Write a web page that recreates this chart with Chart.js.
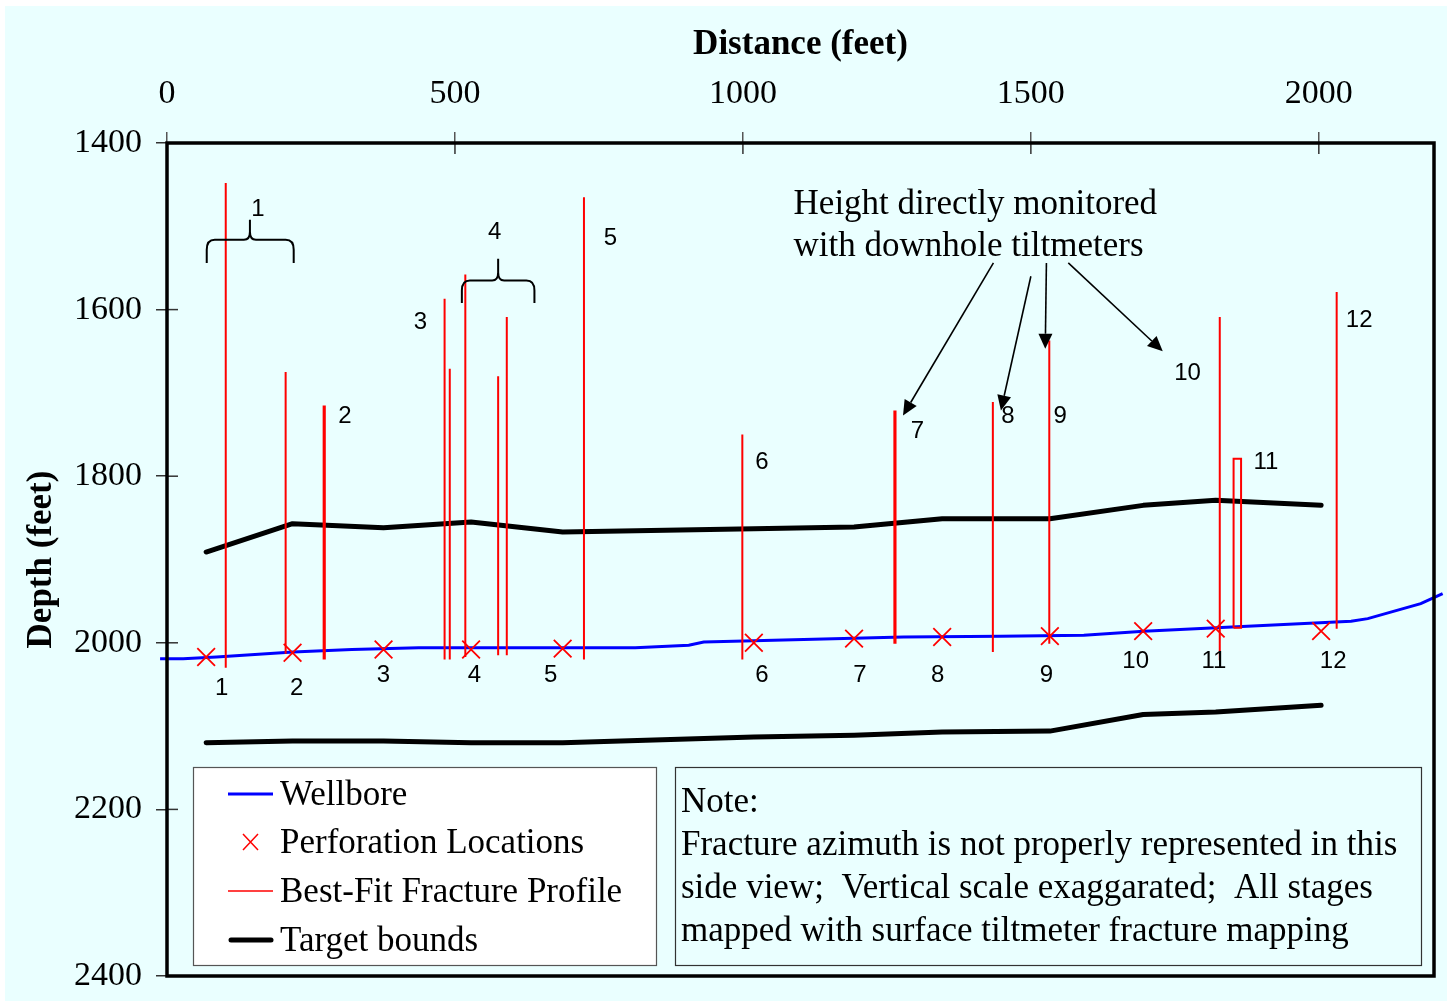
<!DOCTYPE html>
<html><head><meta charset="utf-8">
<script src="https://cdn.jsdelivr.net/npm/chart.js@4/dist/chart.umd.min.js"></script>
<style>html,body{margin:0;padding:0;background:#fff;}canvas{display:block;}</style>
</head><body>
<canvas id="c" width="1456" height="1005"></canvas>
<script>
// ---- tick labels ----
const xTickVals = [0, 500, 1000, 1500, 2000];
const yTickVals = [1400, 1600, 1800, 2000, 2200, 2400];

// ---- wellbore trajectory (distance ft, depth ft) ----
const wellX = [-12, 28, 86, 219, 321, 437, 752, 813, 906, 932, 1279, 1447, 1592, 1696, 2056, 2085, 2177, 2215];
const wellD = [2019, 2019, 2017, 2011, 2008, 2006, 2006, 2006, 2003, 1999, 1993, 1992, 1991, 1986, 1974, 1971, 1953, 1941];

// ---- perforation locations (stages 1-12) ----
const stageNames = ['1','2','3','4','5','6','7','8','9','10','11','12'];
const perfX = [68, 218, 376, 528, 687, 1019, 1193, 1346, 1533, 1695, 1821, 2004];
const perfD = [2017, 2012, 2008, 2008, 2007, 2000, 1995, 1993, 1992, 1986, 1983, 1986];

// ---- target bounds ----
const targetTopD = [1891, 1857, 1862, 1855, 1867, 1863, 1861, 1851, 1851, 1835, 1829, 1835];
const targetBotD = [2120, 2118, 2118, 2120, 2120, 2113, 2111, 2107, 2106, 2086, 2083, 2075];

// ---- best-fit fracture profiles (vertical extents) ----
const fracX   = [102, 206, 272, 274, 482, 491, 518, 575, 590, 724, 999, 1263, 1265, 1434, 1532, 1828, 2031];
const fracTop = [1448, 1675, 1715, 1715, 1587, 1671, 1558, 1680, 1609, 1465, 1750, 1721, 1721, 1711, 1637, 1609, 1579];
const fracBot = [2030, 2013, 2020, 2020, 2020, 2020, 2017, 2015, 2015, 2020, 2020, 2001, 2001, 2011, 2001, 2021, 1983];
// stage 11 narrow fracture box
const fracBoxX = [1852, 1865];
const fracBoxD = [1779, 1982];

// ---- annotation anchors (data units) ----
const fracLabelX = [158, 309, 440, 569, 770, 1033, 1303, 1460, 1551, 1772, 1908, 2070];
const fracLabelD = [1480, 1728, 1615, 1507, 1514, 1784, 1746, 1728, 1728, 1676, 1784, 1613];
const perfLabelX = [95, 225, 376, 534, 666, 1033, 1203, 1338, 1527, 1682, 1818, 2025];
const perfLabelD = [2055, 2055, 2039, 2039, 2039, 2039, 2039, 2039, 2039, 2022, 2022, 2022];
const braceX0 = [69, 512], braceX1 = [220, 638], braceCX = [144, 575];
const braceTopD = [1516, 1565], braceEndD = [1544, 1592], braceTipD = [1492, 1539];
const arrowFromX = [1435, 1500, 1527, 1565], arrowFromD = [1544, 1560, 1544, 1544];
const arrowToX = [1278, 1448, 1525, 1729], arrowToD = [1727, 1721, 1647, 1650];
const calloutLines = ['Height directly monitored', 'with downhole tiltmeters'];
const calloutX = 1088, calloutD = [1472, 1523];
const noteLines = ['Note:', 'Fracture azimuth is not properly represented in this', 'side view;  Vertical scale exaggarated;  All stages', 'mapped with surface tiltmeter fracture mapping'];

const SERIF = '"Liberation Serif", "Times New Roman", serif';
const SANS = '"Liberation Sans", Arial, sans-serif';

const fracData = [];
fracX.forEach((x, i) => { fracData.push({x, y: fracTop[i]}, {x, y: fracBot[i]}, {x, y: null}); });
const boxData = [
  {x: fracBoxX[0], y: fracBoxD[1]}, {x: fracBoxX[0], y: fracBoxD[0]},
  {x: fracBoxX[1], y: fracBoxD[0]}, {x: fracBoxX[1], y: fracBoxD[1]}, {x: fracBoxX[0], y: fracBoxD[1]}
];

function drawArrow(ctx, x0, y0, x1, y1) {
  const a = Math.atan2(y1 - y0, x1 - x0), L = 15, W = 7;
  const bx = x1 - L * Math.cos(a), by = y1 - L * Math.sin(a);
  ctx.beginPath(); ctx.moveTo(x0, y0); ctx.lineTo(bx, by); ctx.stroke();
  ctx.beginPath(); ctx.moveTo(x1, y1);
  ctx.lineTo(bx + W * Math.sin(a), by - W * Math.cos(a));
  ctx.lineTo(bx - W * Math.sin(a), by + W * Math.cos(a));
  ctx.closePath(); ctx.fill();
}
function drawBrace(ctx, x0, x1, cx, yTop, yEnd, yTip) {
  ctx.beginPath();
  ctx.moveTo(x0, yEnd); ctx.lineTo(x0, yTop + 10);
  ctx.quadraticCurveTo(x0, yTop, x0 + 8, yTop);
  ctx.lineTo(cx - 6, yTop);
  ctx.quadraticCurveTo(cx, yTop, cx, yTop - 8);
  ctx.lineTo(cx, yTip);
  ctx.moveTo(cx, yTop - 8);
  ctx.quadraticCurveTo(cx, yTop, cx + 6, yTop);
  ctx.lineTo(x1 - 8, yTop);
  ctx.quadraticCurveTo(x1, yTop, x1, yTop + 10);
  ctx.lineTo(x1, yEnd);
  ctx.stroke();
}

const annot = {
  id: 'annot',
  beforeDraw(chart) {
    const ctx = chart.ctx;
    ctx.save();
    ctx.fillStyle = '#fff'; ctx.fillRect(0, 0, chart.width, chart.height);
    ctx.fillStyle = '#EAFFFF'; ctx.fillRect(5, 6, 1442, 995);
    ctx.restore();
  },
  afterDraw(chart) {
    const ctx = chart.ctx, a = chart.chartArea;
    const xs = chart.scales.x, ys = chart.scales.y;
    const px = v => xs.getPixelForValue(v), py = v => ys.getPixelForValue(v);
    ctx.save();
    // inner tick marks
    ctx.strokeStyle = '#333'; ctx.lineWidth = 1.5;
    xTickVals.forEach(v => { ctx.beginPath(); ctx.moveTo(px(v), a.top); ctx.lineTo(px(v), a.top + 11); ctx.stroke(); });
    yTickVals.forEach(v => { ctx.beginPath(); ctx.moveTo(a.left, py(v)); ctx.lineTo(a.left + 11, py(v)); ctx.stroke(); });
    // plot frame
    ctx.strokeStyle = '#000'; ctx.lineWidth = 3.5;
    ctx.strokeRect(a.left, a.top, a.right - a.left, a.bottom - a.top);
    // stage labels
    ctx.fillStyle = '#000'; ctx.font = '24px ' + SANS; ctx.textAlign = 'center'; ctx.textBaseline = 'middle';
    stageNames.forEach((t, i) => {
      ctx.fillText(t, px(fracLabelX[i]), py(fracLabelD[i]));
      ctx.fillText(t, px(perfLabelX[i]), py(perfLabelD[i]));
    });
    // braces
    ctx.strokeStyle = '#000'; ctx.lineWidth = 2;
    braceX0.forEach((x0, i) => drawBrace(ctx, px(x0), px(braceX1[i]), px(braceCX[i]), py(braceTopD[i]), py(braceEndD[i]), py(braceTipD[i])));
    // callout text + arrows
    ctx.font = '35px ' + SERIF; ctx.textAlign = 'left'; ctx.textBaseline = 'alphabetic';
    calloutLines.forEach((t, i) => ctx.fillText(t, px(calloutX), py(calloutD[i]) + 11));
    ctx.lineWidth = 1.6; ctx.fillStyle = '#000';
    arrowFromX.forEach((x, i) => drawArrow(ctx, px(x), py(arrowFromD[i]), px(arrowToX[i]), py(arrowToD[i])));
    // legend box
    ctx.fillStyle = '#fff'; ctx.fillRect(193, 767, 463, 198);
    ctx.strokeStyle = '#555'; ctx.lineWidth = 1.2; ctx.strokeRect(193.5, 767.5, 463, 198);
    const rows = [794, 842, 891, 940];
    const ds = chart.data.datasets;
    ctx.lineCap = 'butt';
    ctx.strokeStyle = ds[0].borderColor; ctx.lineWidth = 3;
    ctx.beginPath(); ctx.moveTo(228, rows[0]); ctx.lineTo(273, rows[0]); ctx.stroke();
    ctx.strokeStyle = '#FF0000'; ctx.lineWidth = 1.5;
    ctx.beginPath(); ctx.moveTo(243, rows[1] - 8); ctx.lineTo(258, rows[1] + 8); ctx.moveTo(258, rows[1] - 8); ctx.lineTo(243, rows[1] + 8); ctx.stroke();
    ctx.lineWidth = 1.5;
    ctx.beginPath(); ctx.moveTo(228, rows[2]); ctx.lineTo(273, rows[2]); ctx.stroke();
    ctx.strokeStyle = '#000'; ctx.lineWidth = 5; ctx.lineCap = 'round';
    ctx.beginPath(); ctx.moveTo(231, rows[3]); ctx.lineTo(271, rows[3]); ctx.stroke();
    ctx.lineCap = 'butt';
    ctx.fillStyle = '#000'; ctx.font = '35px ' + SERIF;
    ['Wellbore', 'Perforation Locations', 'Best-Fit Fracture Profile', 'Target bounds'].forEach((t, i) => ctx.fillText(t, 280, rows[i] + 11));
    // note box
    ctx.strokeStyle = '#333'; ctx.lineWidth = 1.2; ctx.strokeRect(675.5, 767.5, 746, 198);
    noteLines.forEach((t, i) => ctx.fillText(t, 681, 801 + 43 * i + 11));
    ctx.restore();
  }
};

new Chart(document.getElementById('c'), {
  type: 'scatter',
  data: {
    datasets: [
      { label: 'Wellbore', data: wellX.map((x, i) => ({x, y: wellD[i]})), showLine: true,
        borderColor: '#0000FF', backgroundColor: '#0000FF', borderWidth: 3, pointRadius: 0, clip: false, order: 4 },
      { label: 'Perforation Locations', data: perfX.map((x, i) => ({x, y: perfD[i]})), showLine: false,
        pointStyle: 'crossRot', pointRadius: 12.5, borderColor: '#FF0000', backgroundColor: '#FF0000', borderWidth: 1.8, order: 0 },
      { label: 'Best-Fit Fracture Profile', data: fracData, showLine: true, spanGaps: false,
        borderColor: '#FF0000', borderWidth: 2, pointRadius: 0, order: 1 },
      { label: 'Best-Fit Fracture Profile (box)', data: boxData, showLine: true,
        borderColor: '#FF0000', borderWidth: 2, pointRadius: 0, order: 1 },
      { label: 'Target bounds', data: perfX.map((x, i) => ({x, y: targetTopD[i]})), showLine: true,
        borderColor: '#000', borderWidth: 5, borderCapStyle: 'round', borderJoinStyle: 'round', pointRadius: 0, order: 3 },
      { label: 'Target bounds (lower)', data: perfX.map((x, i) => ({x, y: targetBotD[i]})), showLine: true,
        borderColor: '#000', borderWidth: 5, borderCapStyle: 'round', borderJoinStyle: 'round', pointRadius: 0, order: 3 }
    ]
  },
  options: {
    responsive: false, animation: false, devicePixelRatio: 1,
    layout: { autoPadding: false, padding: { left: 0, top: 0, right: 22, bottom: 29 } },
    plugins: { legend: { display: false }, tooltip: { enabled: false } },
    scales: {
      x: {
        type: 'linear', position: 'top', min: 0, max: 2200,
        afterBuildTicks: s => { s.ticks = xTickVals.map(v => ({value: v})); },
        afterFit: s => { s.height = 143; s.paddingLeft = 0; s.paddingRight = 0; },
        ticks: { font: {family: SERIF, size: 34}, color: '#000', padding: 18, maxRotation: 0, autoSkip: false, callback: v => String(v) },
        grid: { drawOnChartArea: false, drawTicks: true, tickLength: 11, color: '#555', lineWidth: 1.5 },
        border: { display: false },
        title: { display: true, text: 'Distance (feet)', color: '#000', font: {family: SERIF, size: 35, weight: 'bold'}, padding: {top: 24, bottom: 0} }
      },
      y: {
        type: 'linear', reverse: true, min: 1400, max: 2400,
        afterBuildTicks: s => { s.ticks = yTickVals.map(v => ({value: v})); },
        afterFit: s => { s.width = 167; s.paddingTop = 0; s.paddingBottom = 0; },
        ticks: { font: {family: SERIF, size: 34}, color: '#000', padding: 14, autoSkip: false, callback: v => String(v) },
        grid: { drawOnChartArea: false, drawTicks: true, tickLength: 11, color: '#333', lineWidth: 1.5 },
        border: { display: false },
        title: { display: true, text: 'Depth (feet)', color: '#000', font: {family: SERIF, size: 35, weight: 'bold'}, padding: {top: 21, bottom: 0} }
      }
    }
  },
  plugins: [annot]
});
</script>
</body></html>
